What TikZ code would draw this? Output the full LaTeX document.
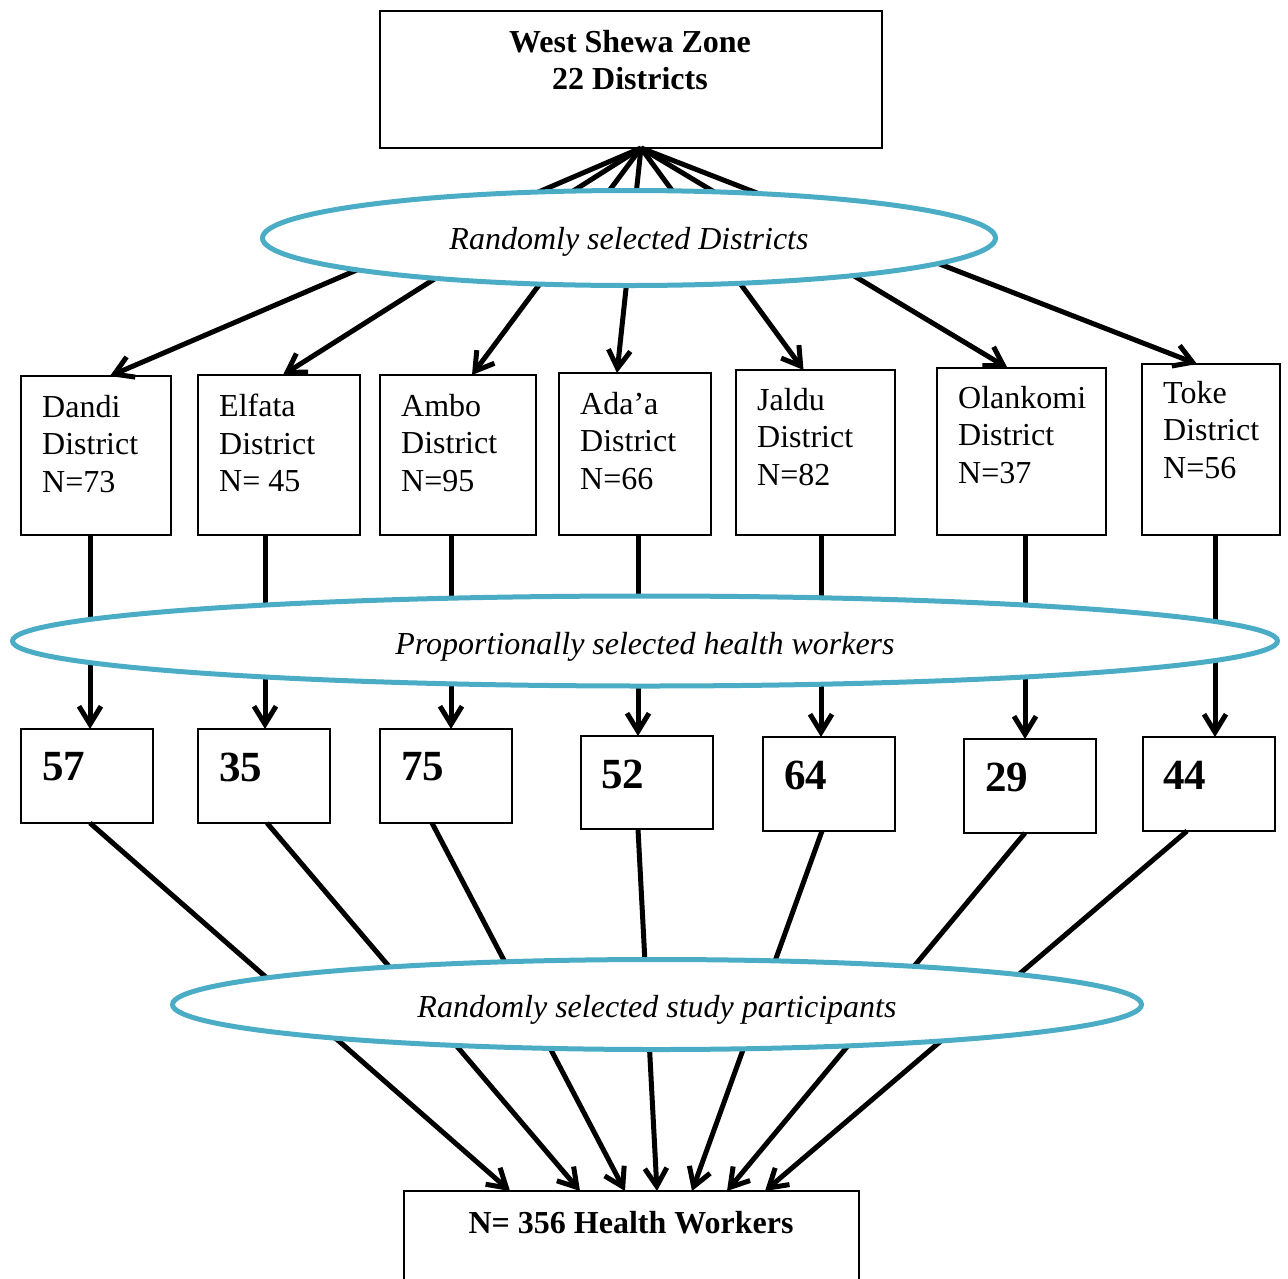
\documentclass[tikz,border=0pt]{standalone}
\usepackage{fontspec}
\setmainfont{Liberation Serif}
\usetikzlibrary{arrows.meta,shapes.geometric,calc}
\definecolor{ovalblue}{HTML}{4BACC6}
\begin{document}
\begin{tikzpicture}[x=1pt,y=-1pt,
  box/.style={draw=black,line width=2.2pt,inner sep=0pt,outer sep=0pt,fill=white},
  dtxt/.style={inner sep=0pt,font=\fontsize{32}{37.5}\selectfont,align=left,anchor=north west},
  num/.style={inner sep=0pt,font=\fontsize{43}{43}\selectfont\bfseries,anchor=west},
  arr/.style={line width=5pt,-{Straight Barb[length=18pt,width=22pt]}},
  oval/.style={ellipse,draw=ovalblue,line width=5pt,fill=white,inner sep=0pt,text depth=0pt,font=\fontsize{32}{37.5}\selectfont\itshape},
]
\useasboundingbox (0,0) rectangle (1288,1278);

% top box
\node[box,minimum width=502pt,minimum height=137pt] (zone) at (631,79.5) {};
\node[inner sep=0pt,font=\fontsize{32}{37}\selectfont\bfseries,align=center,anchor=north] (zonetxt) at (630,30) {West Shewa Zone\\22 Districts};

% district boxes
\node[box,minimum width=150pt,minimum height=159pt] (dandi) at (96,455.5) {};
\node[box,minimum width=162pt,minimum height=160pt] (elfata) at (279,455) {};
\node[box,minimum width=156pt,minimum height=160pt] (ambo) at (458,455) {};
\node[box,minimum width=152pt,minimum height=162pt] (adaa) at (635,454) {};
\node[box,minimum width=159pt,minimum height=165pt] (jaldu) at (815.5,452.5) {};
\node[box,minimum width=169pt,minimum height=167pt] (olan) at (1021.5,451.5) {};
\node[box,minimum width=138pt,minimum height=171pt] (toke) at (1211,449.5) {};

\node[dtxt] (dandit) at (42,395) {Dandi\\District\\N=73};
\node[dtxt] (elfatat) at (219,394) {Elfata\\District\\N= 45};
\node[dtxt] (ambot) at (401,394) {Ambo\\District\\N=95};
\node[dtxt] (adaat) at (580,392) {Ada’a\\District\\N=66};
\node[dtxt] (jaldut) at (757,388) {Jaldu\\District\\N=82};
\node[dtxt] (olant) at (958,386) {Olankomi\\District\\N=37};
\node[dtxt] (toket) at (1163,381) {Toke\\District\\N=56};

% number boxes
\node[box,minimum width=132pt,minimum height=94pt] (n57) at (87,776) {};
\node[box,minimum width=132pt,minimum height=94pt] (n35) at (264,776) {};
\node[box,minimum width=132pt,minimum height=94pt] (n75) at (446,776) {};
\node[box,minimum width=132pt,minimum height=93pt] (n52) at (647,782.5) {};
\node[box,minimum width=132pt,minimum height=94pt] (n64) at (829,784) {};
\node[box,minimum width=132pt,minimum height=94pt] (n29) at (1030,786) {};
\node[box,minimum width=132pt,minimum height=94pt] (n44) at (1209,784) {};

\node[num] (t57) at (42,767) {57};
\node[num] (t35) at (219,767) {35};
\node[num] (t75) at (401,767) {75};
\node[num] (t52) at (601,774) {52};
\node[num] (t64) at (784,775) {64};
\node[num] (t29) at (985,777) {29};
\node[num] (t44) at (1163,775) {44};

% bottom box
\node[box,minimum width=455pt,minimum height=200pt] (total) at (631.5,1291) {};
\node[inner sep=0pt,font=\fontsize{32}{37}\selectfont\bfseries] (totaltxt) at (631,1223) {N= 356 Health Workers};

% arrows: zone -> districts
\draw[arr] ([xshift=10pt]zone.south) -- ([xshift=14pt]dandi.north);
\draw[arr] ([xshift=10pt]zone.south) -- ([xshift=4pt]elfata.north);
\draw[arr] ([xshift=10pt]zone.south) -- ([xshift=14pt]ambo.north);
\draw[arr] ([xshift=10pt]zone.south) -- ([xshift=-18pt]adaa.north);
\draw[arr] ([xshift=10pt]zone.south) -- ([xshift=-12pt]jaldu.north);
\draw[arr] ([xshift=10pt]zone.south) -- ([xshift=-14pt]olan.north);
\draw[arr] ([xshift=10pt]zone.south) -- ([xshift=-14pt]toke.north);

% districts -> numbers
\draw[arr] ([xshift=-6pt]dandi.south) -- ([xshift=-6pt]dandi.south |- n57.north);
\draw[arr] ([xshift=-14pt]elfata.south) -- ([xshift=-14pt]elfata.south |- n35.north);
\draw[arr] ([xshift=-7pt]ambo.south) -- ([xshift=-7pt]ambo.south |- n75.north);
\draw[arr] ([xshift=3pt]adaa.south) -- ([xshift=3pt]adaa.south |- n52.north);
\draw[arr] ([xshift=5.5pt]jaldu.south) -- ([xshift=5.5pt]jaldu.south |- n64.north);
\draw[arr] ([xshift=3.5pt]olan.south) -- ([xshift=3.5pt]olan.south |- n29.north);
\draw[arr] ([xshift=4pt]toke.south) -- ([xshift=4pt]toke.south |- n44.north);

% numbers -> total
\draw[arr] ([xshift=3pt]n57.south) -- ([xshift=-121.5pt]total.north);
\draw[arr] ([xshift=3pt]n35.south) -- ([xshift=-51.5pt]total.north);
\draw[arr] ([xshift=-14pt]n75.south) -- ([xshift=-6.5pt]total.north);
\draw[arr] ([xshift=-9pt]n52.south) -- ([xshift=25.5pt]total.north);
\draw[arr] ([xshift=-7pt]n64.south) -- ([xshift=60.5pt]total.north);
\draw[arr] ([xshift=-5pt]n29.south) -- ([xshift=95.5pt]total.north);
\draw[arr] ([xshift=-22pt]n44.south) -- ([xshift=133.5pt]total.north);

% ovals
\node[oval,text height=23pt,minimum width=733pt,minimum height=95pt] (oval1) at (629,238) {Randomly selected Districts};
\node[oval,text height=26pt,minimum width=1265pt,minimum height=90pt] (oval2) at (645,641) {Proportionally selected health workers};
\node[oval,text height=26pt,minimum width=969pt,minimum height=90pt] (oval3) at (657,1004.5) {Randomly selected study participants};
\end{tikzpicture}
\end{document}
